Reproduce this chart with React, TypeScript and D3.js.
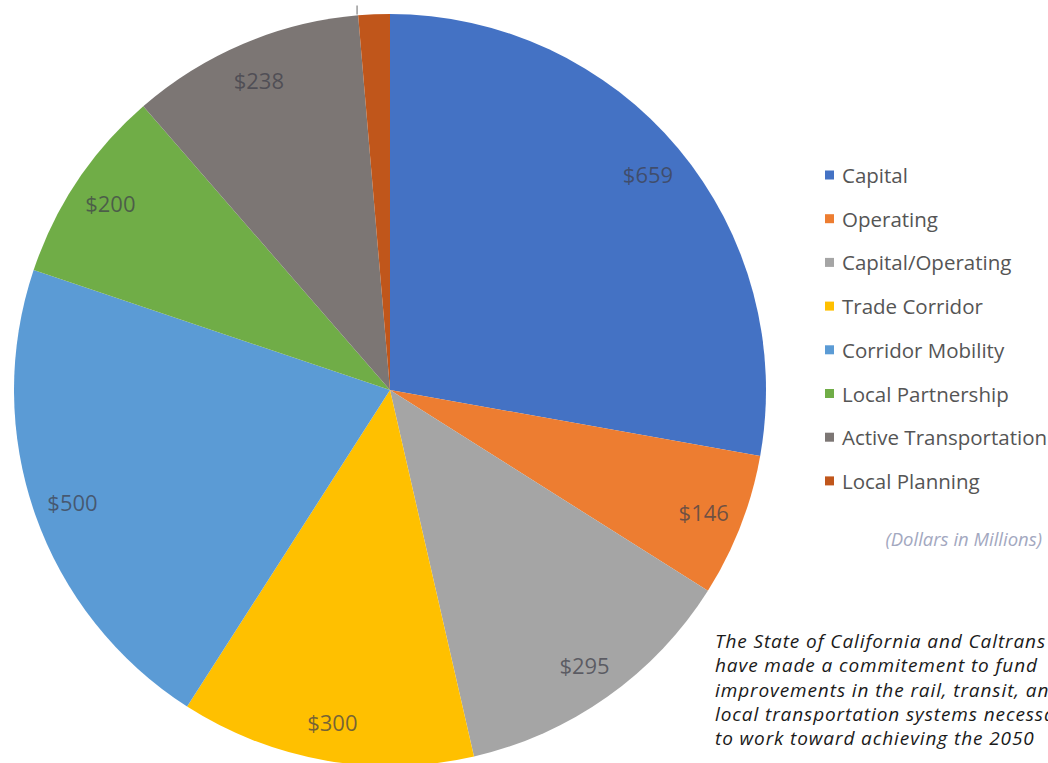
import React from "react";
import * as d3 from "d3";

const categories = [
  "Capital",
  "Operating",
  "Capital/Operating",
  "Trade Corridor",
  "Corridor Mobility",
  "Local Partnership",
  "Active Transportation",
  "Local Planning",
];
const values = [659, 146, 295, 300, 500, 200, 238, 32];
const valueLabels = ["$659", "$146", "$295", "$300", "$500", "$200", "$238", ""];
const colors = [
  "#4472C4",
  "#ED7D31",
  "#A5A5A5",
  "#FFC000",
  "#5B9BD5",
  "#70AD47",
  "#7C7674",
  "#C0561B",
];
const noteLines = [
  "The State of California and Caltrans",
  "have made a commitement to fund",
  "improvements in the rail, transit, and",
  "local transportation systems necessary",
  "to work toward achieving the 2050",
];
const unitsNote = "(Dollars in Millions)";

const W = 1048;
const H = 763;
const cx = 390;
const cy = 390;
const R = 376;

export default function App() {
  const data = categories.map((c, i) => ({ c, v: values[i], i }));
  const pie = d3.pie<any>().value((d) => d.v).sort(null);
  const arcs = pie(data);
  const arc = d3.arc<any>().innerRadius(0).outerRadius(R);
  const labelArc = d3.arc<any>().innerRadius(R * 0.895).outerRadius(R * 0.895);
  const font = "'Open Sans', Lato, sans-serif";
  const lp = arcs[7];
  const lpMid = (lp.startAngle + lp.endAngle) / 2;
  return (
    <svg
      width={W}
      height={H}
      style={{ position: "absolute", left: 0, top: 0, background: "#fff" }}
    >
      <g transform={`translate(${cx},${cy})`}>
        {arcs.map((a, i) => (
          <path key={i} d={arc(a) || ""} fill={colors[i]} />
        ))}
        {arcs.map((a, i) => {
          if (!valueLabels[i]) return null;
          const [x, y] = labelArc.centroid(a);
          return (
            <text
              key={"l" + i}
              x={x}
              y={y}
              textAnchor="middle"
              dominantBaseline="central"
              fontFamily={font}
              fontSize={22}
              fill="#3f3f4a"
              fillOpacity={0.72}
            >
              {valueLabels[i]}
            </text>
          );
        })}
        <line
          x1={Math.sin(lpMid - 0.045) * (R + 1)}
          y1={-Math.cos(lpMid - 0.045) * (R + 1)}
          x2={Math.sin(lpMid - 0.045) * (R + 1)}
          y2={-Math.cos(lpMid - 0.045) * (R + 1) - 9}
          stroke="#9a9a9a"
          strokeWidth={1.5}
        />
      </g>
      <g fontFamily={font}>
        {categories.map((c, i) => {
          const y = 175 + i * 43.7;
          return (
            <g key={c}>
              <rect x={825} y={y - 4.5} width={9} height={9} fill={colors[i]} />
              <text
                x={842}
                y={y}
                dominantBaseline="central"
                fontSize={20.5}
                fill="#555555"
              >
                {c}
              </text>
            </g>
          );
        })}
        <text
          x={1042}
          y={538}
          textAnchor="end"
          dominantBaseline="central"
          fontSize={18.5}
          fontStyle="italic"
          fill="#a3a8bf"
        >
          {unitsNote}
        </text>
        {noteLines.map((t, i) => (
          <text
            key={t}
            x={715}
            y={641 + i * 24.3}
            dominantBaseline="central"
            fontSize={19}
            letterSpacing={0.9}
            fontStyle="italic"
            fill="#1a1a1a"
          >
            {t}
          </text>
        ))}
      </g>
    </svg>
  );
}
